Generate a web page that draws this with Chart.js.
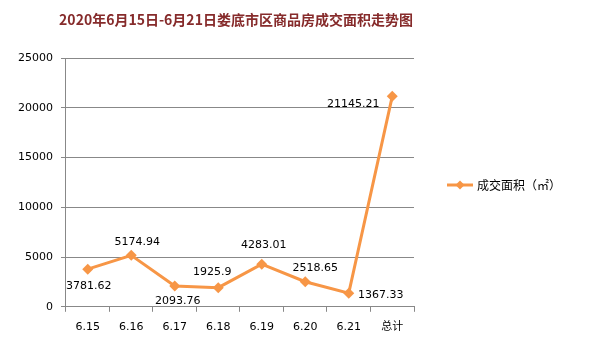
<!DOCTYPE html>
<html>
<head>
<meta charset="utf-8">
<script src="https://cdn.jsdelivr.net/npm/chart.js@4/dist/chart.umd.min.js"></script>
<style>
html,body{margin:0;padding:0;background:#fff;}
#wrap{width:589px;height:356px;position:relative;}
</style>
</head>
<body>
<div id="wrap"><canvas id="c" width="589" height="356"></canvas></div>
<script>
const titleText = '2020年6月15日-6月21日娄底市区商品房成交面积走势图';
const seriesName = '成交面积（㎡）';
const categories = ['6.15','6.16','6.17','6.18','6.19','6.20','6.21','总计'];
const areaValues = [3781.62, 5174.94, 2093.76, 1925.9, 4283.01, 2518.65, 1367.33, 21145.21];
const valueLabels = ['3781.62','5174.94','2093.76','1925.9','4283.01','2518.65','1367.33','21145.21'];
const yTicks = [0, 5000, 10000, 15000, 20000, 25000];

// label placement relative to each point (styling only)
const labelOffsets = [[1,17],[6,-13],[3,15],[-6,-15],[2,-19],[10,-14],[32,2],[-39,8]];

const ORANGE = '#F79646';
const FONT = '"DejaVu Sans", sans-serif';
const CJK = '"Noto Sans CJK SC", sans-serif';

const titlePlugin = {
  id: 'titleLegend',
  afterDraw(chart) {
    const ctx = chart.ctx;
    ctx.save();
    ctx.font = 'bold 14px ' + CJK;
    ctx.fillStyle = '#862B2B';
    ctx.textAlign = 'center';
    ctx.textBaseline = 'middle';
    ctx.fillText(titleText, 236, 20);
    // legend
    const ly = 185;
    ctx.strokeStyle = ORANGE;
    ctx.lineWidth = 3;
    ctx.beginPath();
    ctx.moveTo(447, ly); ctx.lineTo(473, ly); ctx.stroke();
    ctx.fillStyle = ORANGE;
    ctx.beginPath();
    ctx.moveTo(460, ly-4.5); ctx.lineTo(464.5, ly); ctx.lineTo(460, ly+4.5); ctx.lineTo(455.5, ly); ctx.closePath();
    ctx.fill();
    ctx.font = '12px ' + CJK;
    ctx.fillStyle = '#000';
    ctx.textAlign = 'left';
    ctx.fillText(seriesName, 477, ly);
    ctx.restore();
  }
};

const labelPlugin = {
  id: 'valueLabels',
  afterDatasetsDraw(chart) {
    const ctx = chart.ctx;
    const meta = chart.getDatasetMeta(0);
    ctx.save();
    ctx.font = '11px ' + FONT;
    ctx.fillStyle = '#000';
    ctx.textAlign = 'center';
    ctx.textBaseline = 'middle';
    meta.data.forEach((pt, i) => {
      const o = labelOffsets[i];
      ctx.fillText(valueLabels[i], pt.x + o[0], pt.y + o[1]);
    });
    ctx.restore();
  }
};

new Chart(document.getElementById('c'), {
  type: 'line',
  data: {
    labels: categories,
    datasets: [{
      label: seriesName,
      data: areaValues,
      borderColor: ORANGE,
      backgroundColor: ORANGE,
      borderWidth: 3,
      pointStyle: 'rectRot',
      pointRadius: 5.5,
      pointBorderWidth: 0,
      tension: 0,
      fill: false
    }]
  },
  options: {
    responsive: false,
    animation: false,
    devicePixelRatio: 1,
    layout: { padding: { left: 10, right: 175, top: 58, bottom: 13 } },
    plugins: {
      legend: { display: false },
      title: { display: false },
      tooltip: { enabled: false }
    },
    scales: {
      x: {
        offset: true,
        grid: { offset: true, drawOnChartArea: false, color: '#888', tickLength: 5 },
        border: { color: '#888', width: 1 },
        ticks: { color: '#000', font: { family: '"DejaVu Sans", "Noto Sans CJK SC", sans-serif', size: 11 }, padding: 9, maxRotation: 0 }
      },
      y: {
        min: 0, max: 25000,
        afterBuildTicks(scale) { scale.ticks = yTicks.map(v => ({ value: v })); },
        grid: { color: '#888', tickLength: 5 },
        border: { color: '#888', width: 1 },
        ticks: { color: '#000', font: { family: FONT, size: 11 }, padding: 8, callback: v => String(v) }
      }
    }
  },
  plugins: [titlePlugin, labelPlugin]
});
</script>
</body>
</html>
